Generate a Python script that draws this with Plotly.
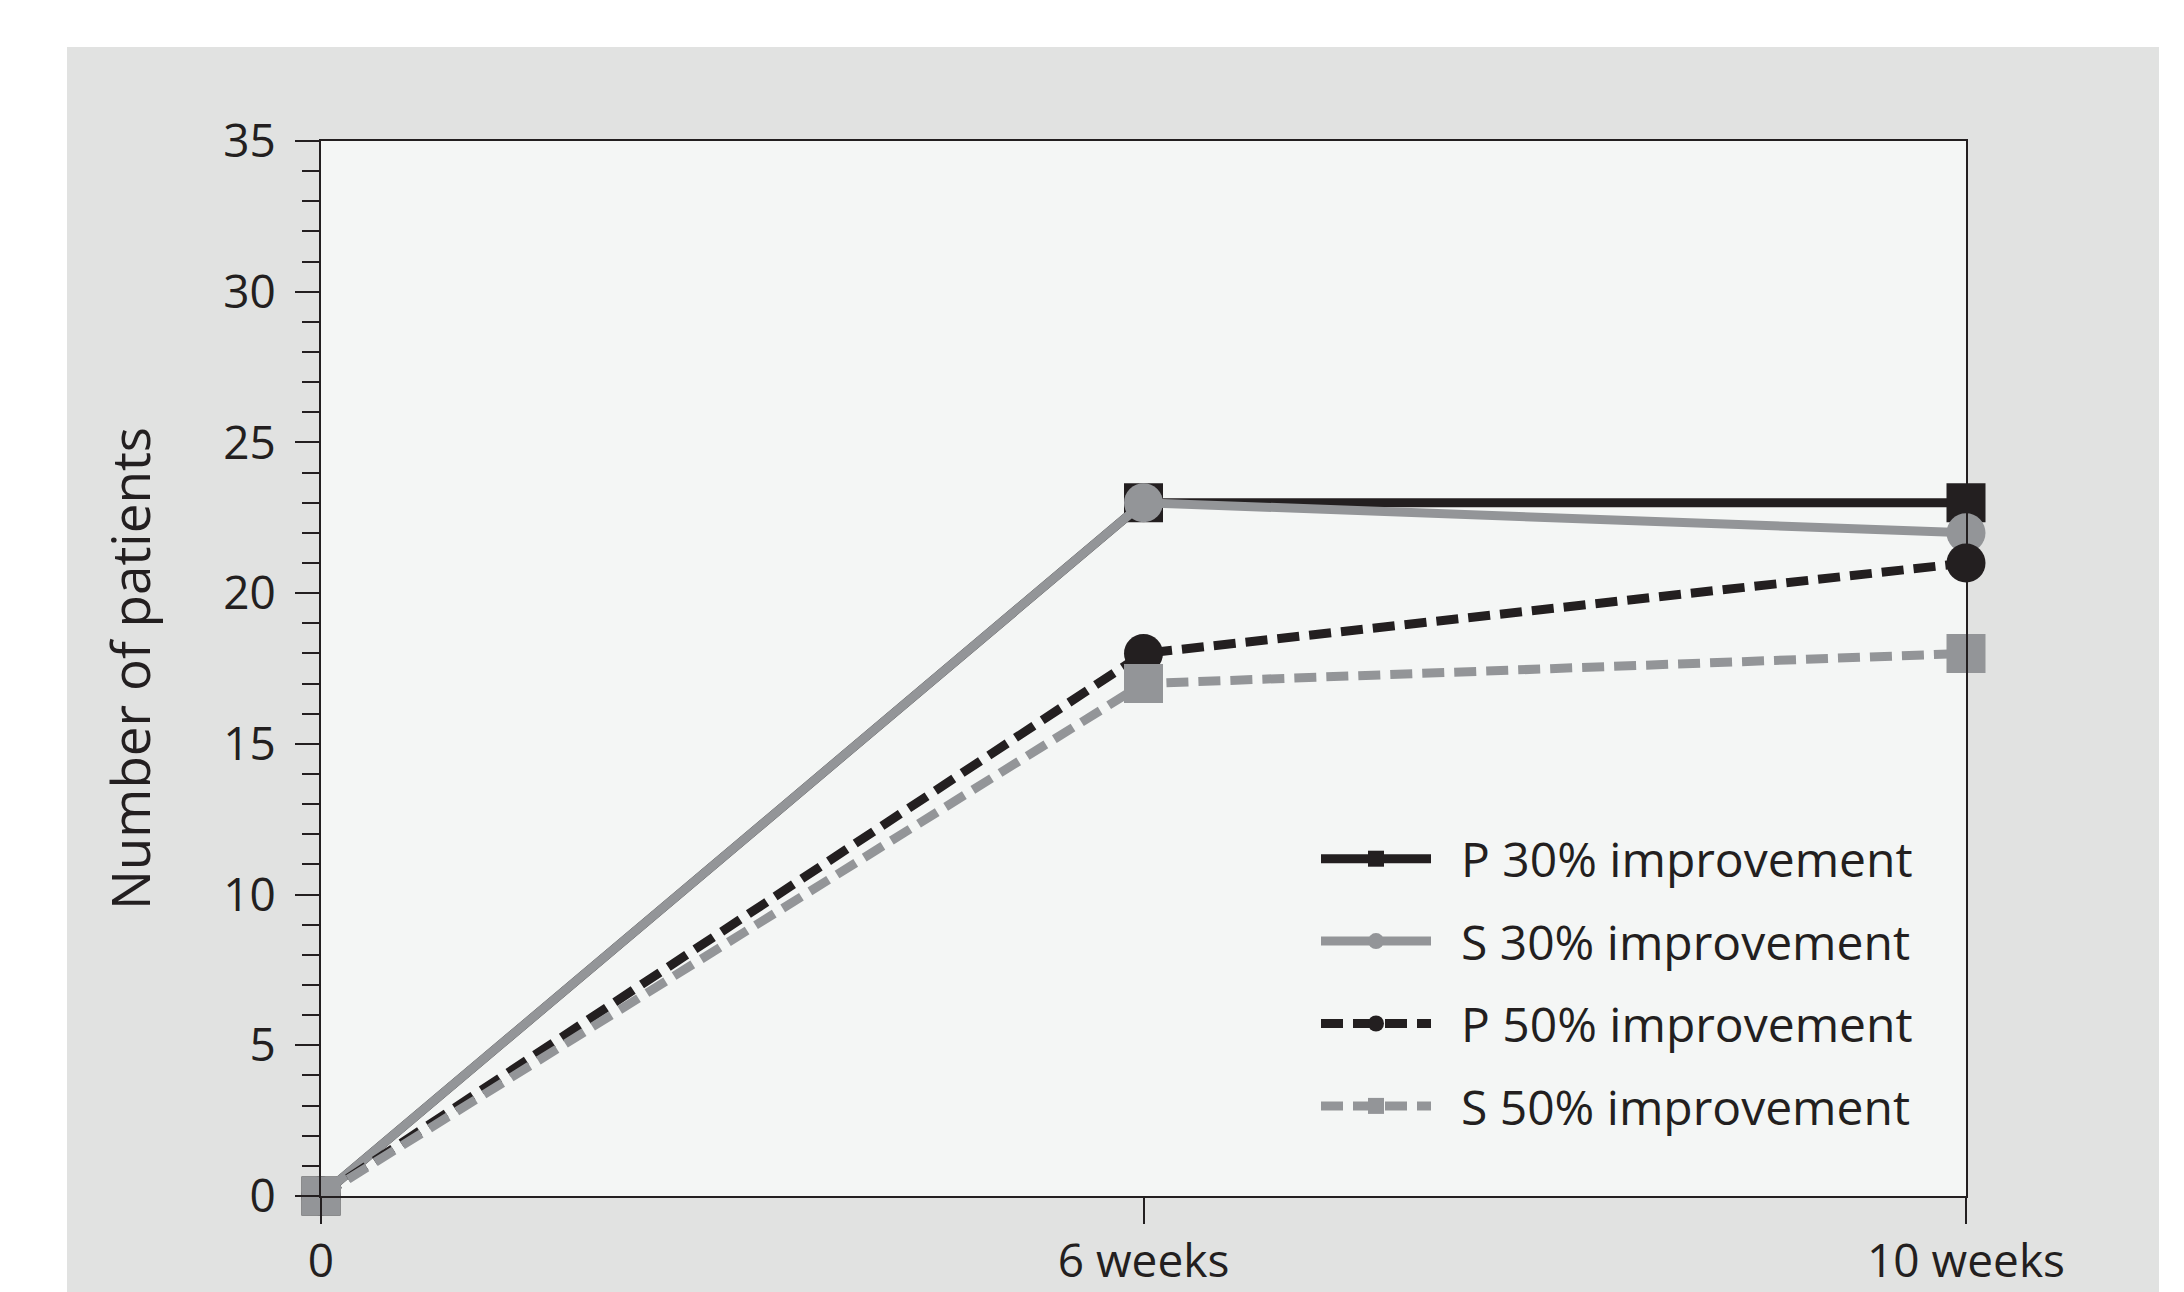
import plotly.graph_objects as go

# ---- data ----
timepoints = ["0", "6 weeks", "10 weeks"]
p30 = [0, 23, 23]
s30 = [0, 23, 22]
p50 = [0, 18, 21]
s50 = [0, 17, 18]
series_names = ["P 30% improvement", "S 30% improvement", "P 50% improvement", "S 50% improvement"]

BLACK = "#231f20"
GRAY = "#939598"
PAPER_GRAY = "#e1e2e1"
PLOT_BG = "#f4f6f5"
FONT = "Open Sans, Noto Sans, sans-serif"

W, H = 2184, 1292
ML, MR, MT, MB = 321, 2184 - 1966, 141, 1292 - 1196
PW, PH = W - ML - MR, H - MT - MB

def px_x(px):
    return (px - ML) / PW

def px_y(py):
    return (H - MB - py) / PH

styles = [
    (p30, BLACK, "solid", "square"),
    (s30, GRAY, "solid", "circle"),
    (p50, BLACK, "22px,10px", "circle"),
    (s50, GRAY, "22px,10px", "square"),
]

fig = go.Figure()
for i, (vals, col, dash, sym) in enumerate(styles):
    fig.add_trace(go.Scatter(
        x=timepoints, y=vals, name="\u00a0\u00a0" + series_names[i], mode="lines+markers",
        line=dict(color=col, width=9, dash=dash),
        marker=dict(color=col, size=39, symbol=sym, line=dict(width=0)),
        cliponaxis=False, legendgroup=f"g{i}",
    ))

shapes = [
    dict(type="rect", xref="paper", yref="paper", x0=-0.3, x1=px_x(67), y0=-0.2, y1=1.3,
         fillcolor="white", line=dict(width=0), layer="below"),
    dict(type="rect", xref="paper", yref="paper", x0=-0.3, x1=1.3, y0=px_y(47), y1=1.3,
         fillcolor="white", line=dict(width=0), layer="below"),
    dict(type="rect", xref="paper", yref="paper", x0=px_x(2159), x1=1.3, y0=-0.2, y1=1.3,
         fillcolor="white", line=dict(width=0), layer="below"),
]

fig.update_layout(
    width=W, height=H,
    margin=dict(l=ML, r=MR, t=MT, b=MB, pad=0),
    paper_bgcolor=PAPER_GRAY, plot_bgcolor=PLOT_BG,
    font=dict(family=FONT, color=BLACK, size=46),
    shapes=shapes,
    showlegend=True,
    legend=dict(
        x=px_x(1316), y=px_y(821), xanchor="left", yanchor="top",
        bgcolor="rgba(0,0,0,0)", borderwidth=0,
        font=dict(family=FONT, size=48, color=BLACK),
        itemwidth=110, tracegroupgap=17, traceorder="grouped",
    ),
    xaxis=dict(
        type="category", range=[0, 2], showgrid=False, zeroline=False,
        showline=True, linecolor=BLACK, linewidth=2, mirror=True,
        ticks="outside", ticklen=26, tickwidth=2, tickcolor=BLACK,
        tickfont=dict(size=46, color=BLACK), ticklabelstandoff=-2,
        automargin=False,
    ),
    yaxis=dict(
        range=[0, 35], dtick=5, tick0=0, showgrid=False, zeroline=False,
        showline=True, linecolor=BLACK, linewidth=2, mirror=True,
        ticks="outside", ticklen=24, tickwidth=2, tickcolor=BLACK,
        tickfont=dict(size=46, color=BLACK), ticklabelstandoff=10,
        minor=dict(dtick=1, ticks="outside", ticklen=17, tickwidth=2, tickcolor=BLACK, showgrid=False),
        title=dict(text="Number of patients", font=dict(size=53, color=BLACK), standoff=56),
        automargin=False,
    ),
)

fig.write_html(
    "out.html",
    config={"displayModeBar": False},
    post_script="document.body.style.margin='0';document.body.style.overflow='hidden';",
)
